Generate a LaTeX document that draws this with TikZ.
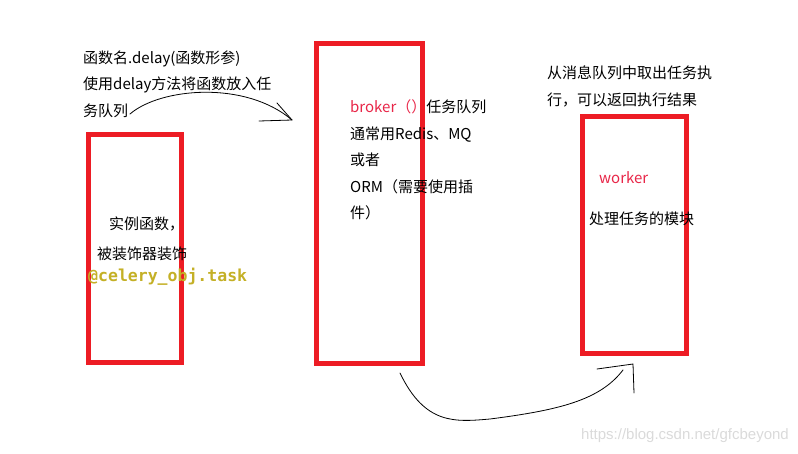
\documentclass[tikz,border=0pt]{standalone}
\usepackage{fontspec}
\setmainfont{Noto Sans CJK SC}
\newfontfamily\codefont{DejaVu Sans Mono}
\newfontfamily\markfont{Liberation Sans}
\usetikzlibrary{positioning}
\definecolor{boxred}{RGB}{237,28,36}
\definecolor{tagred}{RGB}{232,38,72}
\definecolor{codeyellow}{RGB}{196,176,38}
\definecolor{markgray}{RGB}{218,218,218}

\begin{document}
\begin{tikzpicture}[
    x=1pt, y=-1pt,
    frame/.style={draw=boxred, line width=5pt, inner sep=0pt},
    note/.style={anchor=west, inner sep=0pt, align=left, font=\fontsize{15}{26.5}\selectfont},
    tag/.style={text=tagred},
    code/.style={anchor=west, inner sep=0pt, text=codeyellow, font=\codefont\bfseries\fontsize{16.5}{18}\selectfont},
    stroke/.style={line width=0.8pt, line cap=round, line join=round}
]
\useasboundingbox (0,0) rectangle (798,453);

% the three parts
\node[frame, minimum width=93pt, minimum height=228pt] (task) at (135,248.5) {};
\node[frame, minimum width=106pt, minimum height=320pt] (broker) at (369.5,203.5) {};
\node[frame, minimum width=104pt, minimum height=237pt] (worker) at (634.5,235) {};

% texts
\node[note] (call) at (83,84) {函数名.delay(函数形参)\\使用delay方法将函数放入任\\务队列};
\node[note] (func) at (109,224) {实例函数，};
\node[note] (deco) at (97,254) {被装饰器装饰};
\node[code] (celery) at (88,277) {@celery\_obj.task};
\node[note] (queue) at (350,160) {\textcolor{tagred}{broker（）}任务队列\\通常用Redis、MQ\\或者\\ORM（需要使用插\\件）};
\node[note] (fetch) at (547,86.5) {从消息队列中取出任务执\\行，可以返回执行结果};
\node[note, tag] (wname) at (599,178) {worker};
\node[note] (wdesc) at (589,219) {处理任务的模块};
\node[anchor=east, inner sep=0pt, text=markgray, font=\markfont\fontsize{15}{17}\selectfont] (mark) at (789,436) {https://blog.csdn.net/gfcbeyond};

% hand drawn arrows
\coordinate (a1) at (130,114);
\coordinate (a2) at (292,120);
\draw[stroke] (a1) .. controls (160,88) and (245,80) .. (a2);
\draw[stroke] (259,121) -- (a2) -- (277,103);

\coordinate (b1) at (400,373);
\coordinate (b2) at (623,370);
\draw[stroke] (b1) .. controls (425,425) and (455,422) .. (490,419)
    .. controls (560,410) and (600,400) .. (b2);
\draw[stroke] (597,369) -- (633,364) -- (634,393);
\end{tikzpicture}
\end{document}
